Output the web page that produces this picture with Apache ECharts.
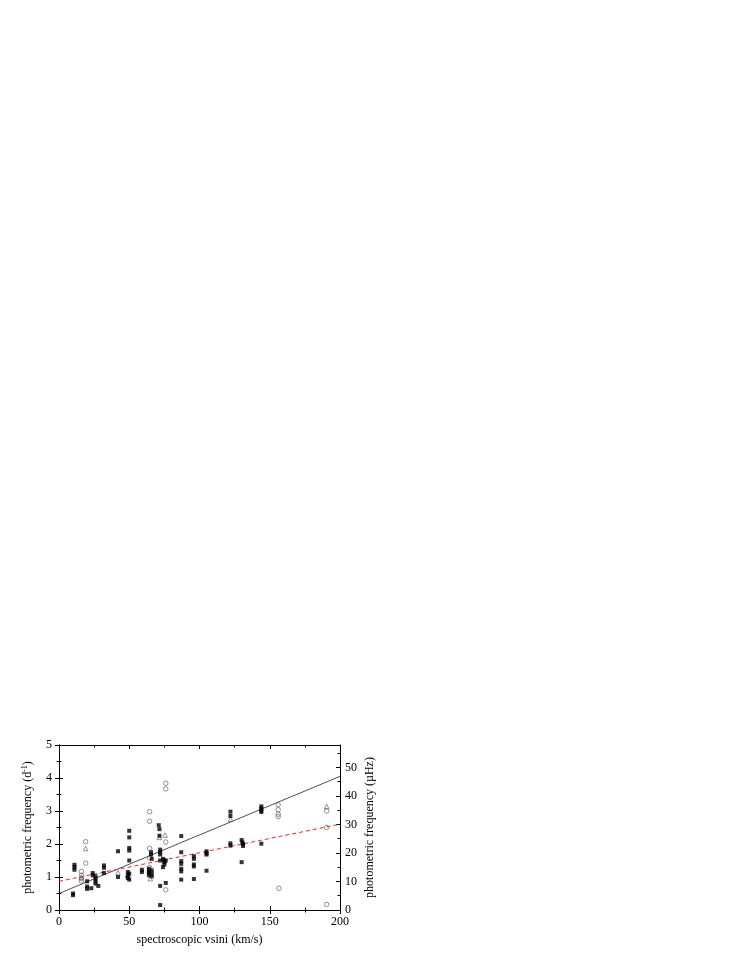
<!DOCTYPE html>
<html>
<head>
<meta charset="utf-8">
<script src="https://cdn.jsdelivr.net/npm/echarts@6/dist/echarts.min.js"></script>
<style>
  html, body { margin: 0; padding: 0; background: #fff; }
  #chart { width: 748px; height: 968px; }
</style>
</head>
<body>
<div id="chart"></div>
<script>
// filled squares
const sqX = [10, 10, 11, 11, 11, 20, 20, 20, 23, 24, 24, 26, 26, 26, 26, 28, 32, 32, 32, 42, 42,
  49, 49, 49, 50, 50, 50, 50, 50, 50, 50, 59, 59, 64, 64, 64, 64, 66, 66, 66, 65.5, 65.5, 66,
  71, 71.5, 71.5, 72, 72, 72, 72, 72, 72, 74, 75, 75, 75, 74, 76, 76,
  87, 87, 87, 87, 87, 87, 87, 96, 96, 96, 96, 96, 105, 105, 105, 105,
  122, 122, 122, 122, 130, 130.5, 131, 131, 130, 144, 144, 144, 144, 144]
const sqY = [0.45, 0.5, 1.37, 1.3, 1.22, 0.87, 0.71, 0.64, 0.66, 1.12, 1.05, 1.02, 0.95, 0.87, 0.8, 0.73, 1.35, 1.28, 1.12, 1.78, 1.0,
  1.15, 1.05, 0.97, 2.4, 2.2, 1.88, 1.8, 1.5, 1.1, 0.92, 1.22, 1.15, 1.25, 1.17, 1.12, 1.05, 1.2, 1.1, 1.02, 1.75, 1.68, 1.55,
  2.57, 2.45, 2.25, 1.83, 1.75, 1.68, 1.5, 0.73, 0.15, 1.55, 1.5, 1.45, 1.38, 1.3, 1.5, 0.82,
  2.24, 1.75, 1.48, 1.4, 1.25, 1.17, 0.92, 1.63, 1.55, 1.38, 1.32, 0.94, 1.78, 1.72, 1.68, 1.19,
  2.98, 2.85, 2.02, 1.95, 2.12, 2.05, 2.0, 1.94, 1.45, 3.14, 3.08, 3.02, 2.97, 2.01]
// open circles
const ciX = [16, 16, 16, 16, 19, 19, 49, 64.5, 64.5, 64.5, 64.5, 64.5, 76, 76, 76, 76, 156, 156, 156, 156, 156.5, 190.5, 190.5, 190.5]
const ciY = [1.17, 1.05, 0.95, 0.88, 2.07, 1.42, 1.0, 2.98, 2.69, 1.87, 1.58, 1.29, 3.84, 3.67, 2.06, 0.61, 3.19, 3.04, 2.9, 2.83, 0.66, 3.0, 2.5, 0.17]
// open triangles
const trX = [19, 16, 42, 65, 71.5, 75.5, 122, 190.5]
const trY = [1.86, 1.0, 1.13, 0.95, 2.2, 2.27, 2.75, 3.14]
// fit lines (end points)
const fitX = [0, 200]
const fitSolid = [0.5, 4.05]
const fitDashed = [0.87, 2.6]
const xTicks = [0, 50, 100, 150, 200]
const yTicks = [0, 1, 2, 3, 4, 5]
const uTicks = [0, 10, 20, 30, 40, 50]

const toPairs = (xs, ys) => xs.map((x, i) => [x, ys[i]])
const font = 'Liberation Serif'
const uMax = 5 * 1e6 / 86400

const axLine = { onZero: false, lineStyle: { color: '#000', width: 1 } }
const baseX = {
  type: 'value', min: 0, max: 200, interval: 50, gridIndex: 0,
  axisLine: axLine, splitLine: { show: false }
}
const baseY = {
  type: 'value', min: 0, max: 5, interval: 1, gridIndex: 0,
  axisLine: axLine, splitLine: { show: false }
}

const option = {
  backgroundColor: '#fff',
  animation: false,
  grid: { left: 59, right: 408, top: 745, bottom: 58 },
  xAxis: [
    Object.assign({}, baseX, {
      position: 'bottom',
      name: 'spectroscopic vsini (km/s)',
      nameLocation: 'middle', nameGap: 24,
      nameTextStyle: { fontFamily: font, fontSize: 12, color: '#000' },
      axisTick: { inside: false, length: 4, lineStyle: { color: '#000' } },
      minorTick: { show: true, splitNumber: 2, length: 2.5, lineStyle: { color: '#000' } },
      axisLabel: { fontFamily: font, fontSize: 12, color: '#000', margin: 6,
        formatter: v => xTicks.includes(v) ? String(v) : '' }
    }),
    Object.assign({}, baseX, {
      position: 'bottom',
      axisTick: { inside: true, length: 4, lineStyle: { color: '#000' } },
      minorTick: { show: true, splitNumber: 2, length: 2.5, lineStyle: { color: '#000' } },
      axisLabel: { show: false }
    }),
    Object.assign({}, baseX, {
      position: 'top',
      axisTick: { inside: true, length: 4, lineStyle: { color: '#000' } },
      minorTick: { show: true, splitNumber: 2, length: 2.5, lineStyle: { color: '#000' } },
      axisLabel: { show: false }
    })
  ],
  yAxis: [
    Object.assign({}, baseY, {
      position: 'left',
      name: 'photometric frequency (d{sup|-1})',
      nameLocation: 'middle', nameGap: 24, nameRotate: 90,
      nameTextStyle: { fontFamily: font, fontSize: 12, color: '#000',
        rich: { sup: { fontFamily: font, fontSize: 8, color: '#000', verticalAlign: 'top', padding: [0, 0, 6, 0] } } },
      axisTick: { inside: false, length: 4, lineStyle: { color: '#000' } },
      minorTick: { show: true, splitNumber: 2, length: 2.5, lineStyle: { color: '#000' } },
      axisLabel: { fontFamily: font, fontSize: 12, color: '#000', margin: 7,
        formatter: v => yTicks.includes(v) ? String(v) : '' }
    }),
    Object.assign({}, baseY, {
      position: 'left',
      axisTick: { inside: true, length: 4, lineStyle: { color: '#000' } },
      minorTick: { show: true, splitNumber: 2, length: 2.5, lineStyle: { color: '#000' } },
      axisLabel: { show: false }
    }),
    {
      type: 'value', min: 0, max: uMax, interval: 10, gridIndex: 0, position: 'right',
      name: 'photometric frequency (\u00b5Hz)',
      nameLocation: 'middle', nameGap: 24, nameRotate: 90,
      nameTextStyle: { fontFamily: font, fontSize: 12, color: '#000' },
      axisLine: axLine,
      splitLine: { show: false },
      axisTick: { inside: true, length: 4, lineStyle: { color: '#000' } },
      axisLabel: { fontFamily: font, fontSize: 12, color: '#000', margin: 5,
        formatter: v => uTicks.includes(v) ? String(v) : '' }
    },
    {
      type: 'value', min: 0, max: uMax, interval: 5, gridIndex: 0, position: 'right',
      axisLine: { show: false, onZero: false },
      splitLine: { show: false },
      axisTick: { inside: true, length: 2.5, lineStyle: { color: '#000' } },
      axisLabel: { show: false }
    }
  ],
  series: [
    {
      type: 'line', data: toPairs(fitX, fitSolid), showSymbol: false, z: 1,
      lineStyle: { color: '#222', width: 0.8 }
    },
    {
      type: 'line', data: toPairs(fitX, fitDashed), showSymbol: false, z: 1,
      lineStyle: { color: '#ff2020', width: 1, type: [4, 3] }
    },
    {
      type: 'scatter', data: toPairs(sqX, sqY), symbol: 'rect', symbolSize: 4, z: 3,
      itemStyle: { color: '#000' }
    },
    {
      type: 'scatter', data: toPairs(ciX, ciY), symbol: 'circle', symbolSize: 4.5, z: 2,
      itemStyle: { color: 'rgba(255,255,255,0)', borderColor: '#555', borderWidth: 0.8 }
    },
    {
      type: 'scatter', data: toPairs(trX, trY), symbol: 'triangle', symbolSize: 4.5, z: 2,
      itemStyle: { color: 'rgba(255,255,255,0)', borderColor: '#555', borderWidth: 0.8 }
    }
  ]
}

const chart = echarts.init(document.getElementById('chart'))
chart.setOption(option)
</script>
</body>
</html>
